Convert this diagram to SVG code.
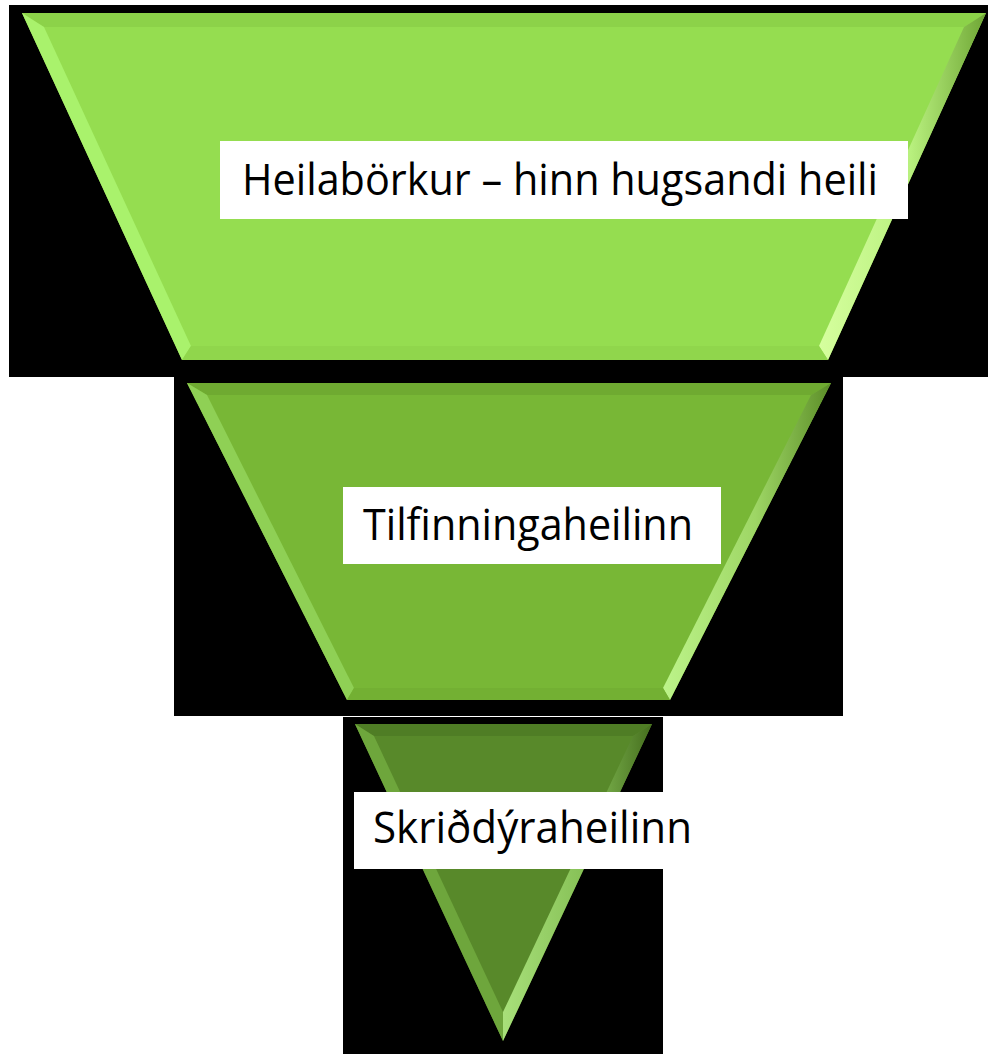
<svg xmlns="http://www.w3.org/2000/svg" width="988" height="1054" viewBox="0 0 988 1054">
<style>
.bg{fill:#000}
.box{fill:#fff}
.lbl{font-family:"Open Sans","Liberation Sans",sans-serif;font-size:43px;fill:#000}
</style>
<defs>
<linearGradient id="rTop" x1="0" y1="0" x2="1" y2="0"><stop offset="0" stop-color="#D6FF9E"/><stop offset="0.55" stop-color="#B8F07E"/><stop offset="1" stop-color="#6FA635"/></linearGradient>
<linearGradient id="rMid" x1="0" y1="0" x2="1" y2="0"><stop offset="0" stop-color="#BDF48A"/><stop offset="0.55" stop-color="#9ED665"/><stop offset="1" stop-color="#5C8E28"/></linearGradient>
<linearGradient id="rBot" x1="0" y1="0" x2="1" y2="0"><stop offset="0" stop-color="#A8E07A"/><stop offset="0.55" stop-color="#86C056"/><stop offset="1" stop-color="#456E1E"/></linearGradient>
</defs>
<rect width="988" height="1054" fill="#fff"/>
<g id="top">
<rect class="bg" x="9" y="5" width="979" height="372"/>
<polygon points="22,13 986,13 828,360 182,360" fill="#95DD50"/>
<polygon points="22,13 986,13 964,27 44,27" fill="#8CD249"/>
<polygon points="22,13 44,27 191,346 182,360" fill="#A9F26C"/>
<polygon points="986,13 828,360 819,346 964,27" fill="url(#rTop)"/>
<polygon points="182,360 191,346 819,346 828,360" fill="#90D64C"/>
<rect class="box" x="220" y="141" width="688" height="78"/>
<text class="lbl" x="242" y="195" textLength="636" lengthAdjust="spacingAndGlyphs">Heilabörkur – hinn hugsandi heili</text>
</g>
<g id="middle">
<rect class="bg" x="174" y="377" width="669" height="339"/>
<polygon points="187,383 831,383 670,700 347,700" fill="#78B736"/>
<polygon points="187,383 831,383 811,395 207,395" fill="#6FAA31"/>
<polygon points="187,383 207,395 354,688 347,700" fill="#8FD055"/>
<polygon points="831,383 670,700 663,688 811,395" fill="url(#rMid)"/>
<polygon points="347,700 354,688 663,688 670,700" fill="#73B033"/>
<rect class="box" x="343" y="487" width="378" height="77"/>
<text class="lbl" x="363" y="540" textLength="330" lengthAdjust="spacingAndGlyphs">Tilfinningaheilinn</text>
</g>
<g id="bottom">
<rect class="bg" x="343" y="717" width="320" height="337"/>
<polygon points="355,724 652,724 503,1041" fill="#58892A"/>
<polygon points="355,724 652,724 633,736 374,736" fill="#4F7D25"/>
<polygon points="355,724 374,736 503,1012 503,1041" fill="#6EA63C"/>
<polygon points="652,724 503,1041 503,1012 633,736" fill="url(#rBot)"/>
<rect class="box" x="354" y="792" width="336" height="77"/>
<text class="lbl" x="373" y="843" textLength="319" lengthAdjust="spacingAndGlyphs">Skriðdýraheilinn</text>
</g>
<g id="connectors"/>
</svg>
